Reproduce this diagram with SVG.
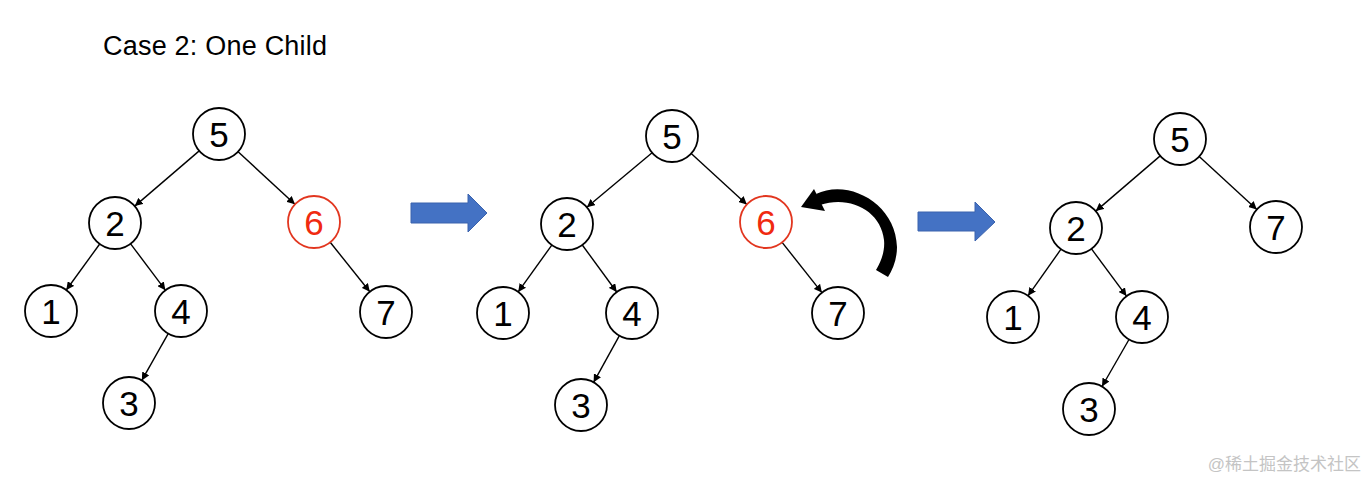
<svg xmlns="http://www.w3.org/2000/svg" width="1367" height="480" viewBox="0 0 1367 480">
<defs>
<style>
.n circle{fill:#fff;stroke:#000;stroke-width:1.8}
.n text{font-family:"Liberation Sans",Arial,sans-serif;font-size:35px;text-anchor:middle;fill:#000}
.n.red circle{stroke:#e2361f}
.n.red text{fill:#f02a10}
.e line{stroke:#000;stroke-width:1.4;marker-end:url(#ah)}
.blue{fill:#4472c4;stroke:#3a62ad;stroke-width:1}
</style>
<marker id="ah" viewBox="0 0 10 10" refX="10" refY="5" markerWidth="8" markerHeight="8" markerUnits="userSpaceOnUse" orient="auto">
<path d="M0,0 L10,5 L0,10 z" fill="#000"/>
</marker>
</defs>
<rect width="1367" height="480" fill="#fff"/>
<text x="103" y="55" font-family="Liberation Sans,Arial,sans-serif" font-size="27" textLength="224" fill="#000">Case 2: One Child</text>

<g id="connectors" class="e">
<line x1="199.2" y1="150.9" x2="134.8" y2="206.1"/>
<line x1="238.1" y1="151.7" x2="294.9" y2="204.3"/>
<line x1="99.7" y1="244" x2="66.3" y2="290"/>
<line x1="130.6" y1="243.8" x2="165.4" y2="290.2"/>
<line x1="330.2" y1="242.3" x2="369.8" y2="291.7"/>
<line x1="168.2" y1="333.6" x2="141.8" y2="380.4"/>

<line x1="652.1" y1="152.7" x2="586.9" y2="207.3"/>
<line x1="691.2" y1="153.6" x2="746.8" y2="204.4"/>
<line x1="551.8" y1="245.1" x2="518.2" y2="291.9"/>
<line x1="582.3" y1="245" x2="616.7" y2="292"/>
<line x1="782.1" y1="242.4" x2="821.9" y2="292.6"/>
<line x1="619.4" y1="335.7" x2="593.6" y2="382.3"/>

<line x1="1160.2" y1="155.9" x2="1095.8" y2="211.1"/>
<line x1="1199.2" y1="156.6" x2="1256.8" y2="209.4"/>
<line x1="1061" y1="249.2" x2="1028" y2="295.8"/>
<line x1="1091.5" y1="248.9" x2="1126.5" y2="296.1"/>
<line x1="1129" y1="339.5" x2="1102" y2="386.5"/>
</g>

<g id="t1-5" class="n"><circle cx="219" cy="134" r="26"/><text x="219" y="147">5</text></g>
<g id="t1-2" class="n"><circle cx="115" cy="223" r="26"/><text x="115" y="236">2</text></g>
<g id="t1-6" class="n red"><circle cx="314" cy="222" r="26"/><text x="314" y="235">6</text></g>
<g id="t1-1" class="n"><circle cx="51" cy="311" r="26"/><text x="51" y="324">1</text></g>
<g id="t1-4" class="n"><circle cx="181" cy="311" r="26"/><text x="181" y="324">4</text></g>
<g id="t1-7" class="n"><circle cx="386" cy="312" r="26"/><text x="386" y="325">7</text></g>
<g id="t1-3" class="n"><circle cx="129" cy="403" r="26"/><text x="129" y="416">3</text></g>

<g id="t2-5" class="n"><circle cx="672" cy="136" r="26"/><text x="672" y="149">5</text></g>
<g id="t2-2" class="n"><circle cx="567" cy="224" r="26"/><text x="567" y="237">2</text></g>
<g id="t2-6" class="n red"><circle cx="766" cy="222" r="26"/><text x="766" y="235">6</text></g>
<g id="t2-1" class="n"><circle cx="503" cy="313" r="26"/><text x="503" y="326">1</text></g>
<g id="t2-4" class="n"><circle cx="632" cy="313" r="26"/><text x="632" y="326">4</text></g>
<g id="t2-7" class="n"><circle cx="838" cy="313" r="26"/><text x="838" y="326">7</text></g>
<g id="t2-3" class="n"><circle cx="581" cy="405" r="26"/><text x="581" y="418">3</text></g>

<g id="t3-5" class="n"><circle cx="1180" cy="139" r="26"/><text x="1180" y="152">5</text></g>
<g id="t3-2" class="n"><circle cx="1076" cy="228" r="26"/><text x="1076" y="241">2</text></g>
<g id="t3-7" class="n"><circle cx="1276" cy="227" r="26"/><text x="1276" y="240">7</text></g>
<g id="t3-1" class="n"><circle cx="1013" cy="317" r="26"/><text x="1013" y="330">1</text></g>
<g id="t3-4" class="n"><circle cx="1142" cy="317" r="26"/><text x="1142" y="330">4</text></g>
<g id="t3-3" class="n"><circle cx="1089" cy="409" r="26"/><text x="1089" y="422">3</text></g>

<g id="arrow1"><path class="blue" d="M411,203 L468,203 L468,194 L487,213 L468,232 L468,223 L411,223 z"/></g>
<g id="arrow2"><path class="blue" d="M918,212 L975,212 L975,202 L995,222 L975,241 L975,231 L918,231 z"/></g>

<g id="rotate-arrow" fill="#000">
<path d="M816,194 C848,178 896,203 897,247 C897,259 893,269 888,277 L876,270 C882,260 885,250 884,240 C881,211 850,195 820,205 z"/>
<path d="M801,207 L814,189 L825,211 z"/>
</g>

<text x="1361" y="470" text-anchor="end" font-family="Liberation Sans,'Noto Sans CJK SC',sans-serif" font-size="17" fill="#c4c4c4">@稀土掘金技术社区</text>
</svg>
